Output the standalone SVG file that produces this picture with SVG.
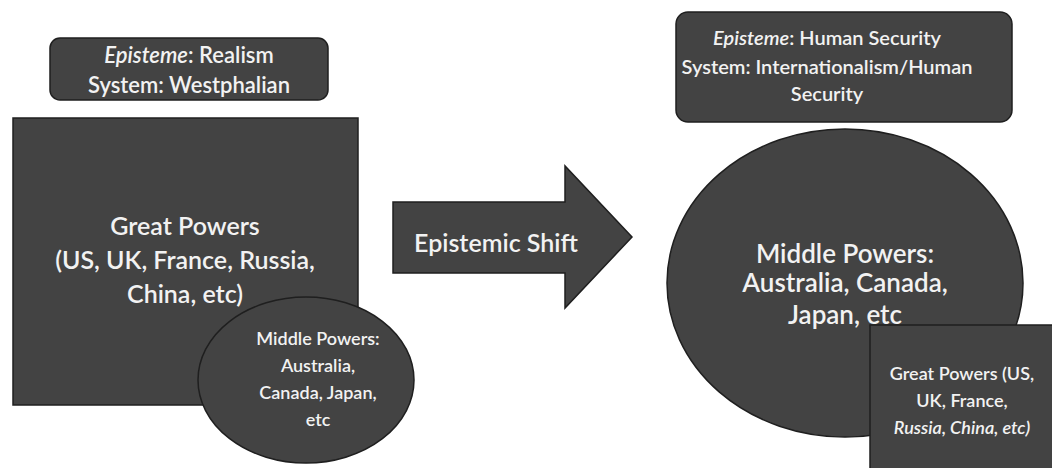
<svg xmlns="http://www.w3.org/2000/svg" width="1052" height="468" viewBox="0 0 1052 468">
<style>
.shape{fill:#434343;stroke:#1f1f1f;stroke-width:1.5}
text{font-family:Lato,"Open Sans","Liberation Sans",sans-serif;font-weight:600;fill:#f2f2f2;text-anchor:middle}
.it{font-style:italic}
</style>
<rect width="1052" height="468" fill="#ffffff"/>
<g id="left-label">
<rect class="shape" x="50" y="38" width="278" height="62" rx="10"/>
<text x="189" y="63" font-size="22"><tspan class="it">Episteme</tspan>: Realism</text>
<text x="189" y="93" font-size="22">System: Westphalian</text>
</g>
<g id="great-powers-left">
<rect class="shape" x="13" y="118" width="345" height="287"/>
<text x="185" y="235" font-size="25">Great Powers</text>
<text x="185" y="269" font-size="25">(US, UK, France, Russia,</text>
<text x="185" y="303" font-size="25">China, etc)</text>
</g>
<g id="middle-powers-left">
<ellipse class="shape" cx="306" cy="380" rx="108" ry="83"/>
<text x="318" y="345" font-size="18">Middle Powers:</text>
<text x="318" y="372" font-size="18">Australia,</text>
<text x="318" y="399" font-size="18">Canada, Japan,</text>
<text x="318" y="426" font-size="18">etc</text>
</g>
<g id="connectors">
<g id="shift-arrow">
<polygon class="shape" points="393,202 565,202 565,166 632,237 565,308 565,273 393,273"/>
<text x="496" y="252" font-size="25">Epistemic Shift</text>
</g>
</g>
<g id="right-label">
<rect class="shape" x="676" y="12" width="336" height="110" rx="12"/>
<text x="827" y="45" font-size="20"><tspan class="it">Episteme</tspan>: Human Security</text>
<text x="827" y="74" font-size="20">System: Internationalism/Human</text>
<text x="827" y="101" font-size="20">Security</text>
</g>
<g id="middle-powers-right">
<ellipse class="shape" cx="845" cy="283" rx="178" ry="154"/>
<text x="845" y="263" font-size="26">Middle Powers:</text>
<text x="845" y="292" font-size="26">Australia, Canada,</text>
<text x="845" y="324" font-size="26">Japan, etc</text>
</g>
<g id="great-powers-right">
<rect class="shape" x="870" y="325" width="200" height="160"/>
<text x="962" y="380" font-size="18">Great Powers (US,</text>
<text x="962" y="407" font-size="18">UK, France,</text>
<text x="962" y="434" font-size="18" class="it">Russia, China, etc)</text>
</g>
</svg>
